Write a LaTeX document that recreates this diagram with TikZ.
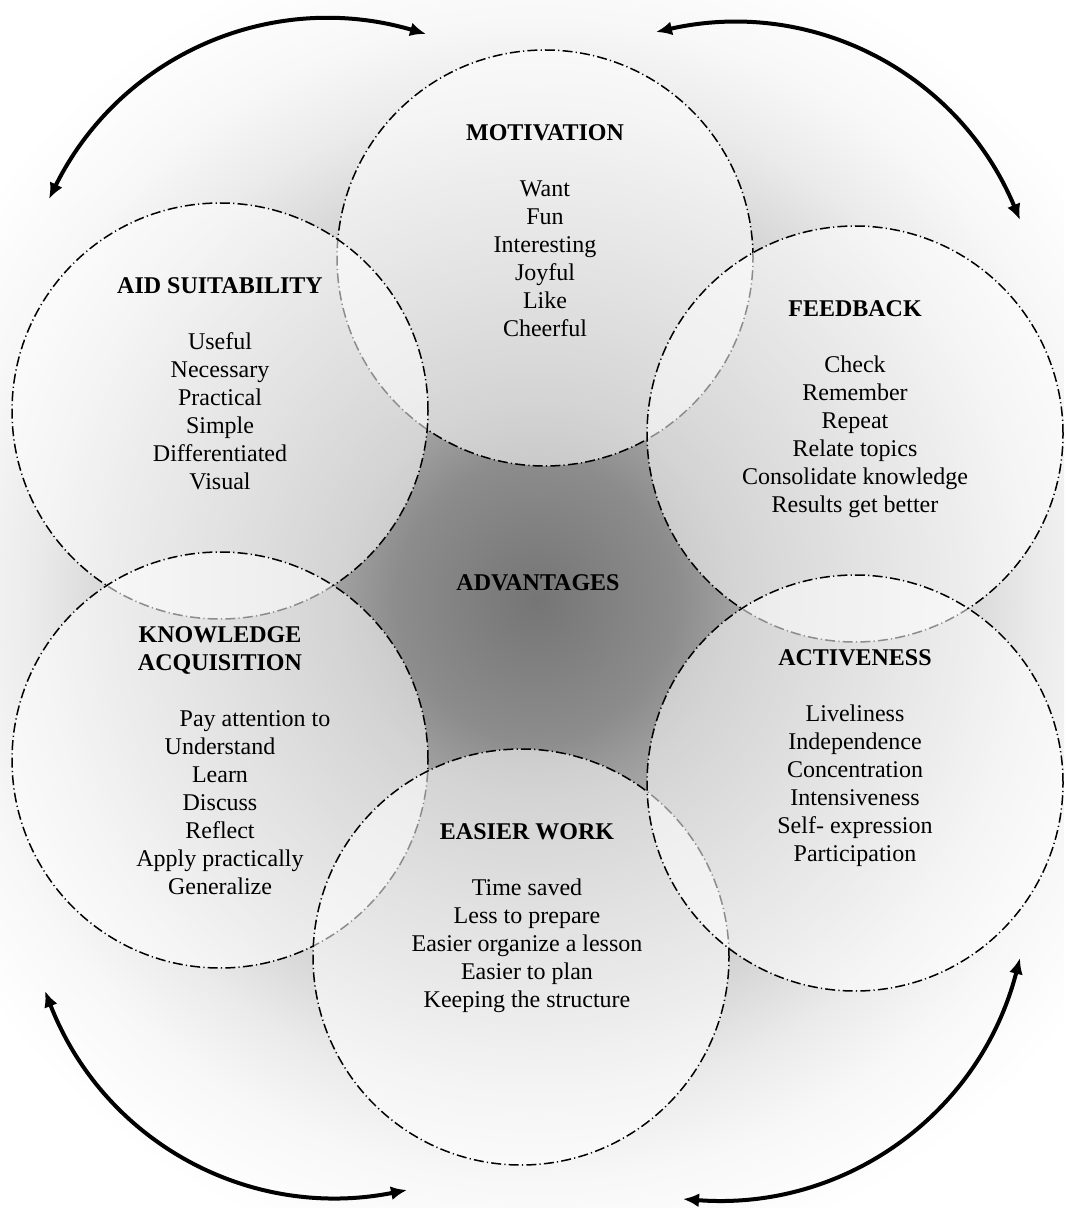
\documentclass[tikz,border=0pt]{standalone}
\usepackage{fontspec}
\setmainfont{Liberation Serif}
\usetikzlibrary{arrows.meta, positioning}

\pgfdeclareradialshading{glow}{\pgfpointorigin}{%
  color(0bp)=(black!54); color(5bp)=(black!45); color(7.1bp)=(black!37);
  color(10.7bp)=(black!27); color(15bp)=(black!16); color(17.9bp)=(black!8);
  color(20.7bp)=(black!3); color(24.3bp)=(white); color(50bp)=(white)}

\begin{document}
\begin{tikzpicture}[
    x=0.5pt, y=-0.5pt,
    bubble/.style={circle, draw, minimum size=208pt, inner sep=0pt, line width=0.75pt,
        dash pattern=on 5pt off 1.6pt on 0.6pt off 1.6pt, fill=white, fill opacity=0.55},
    bubbletext/.style={align=center, inner sep=0pt, font=\fontsize{12}{14}\selectfont},
    twoway/.style={{Latex[length=8pt,width=7pt]}-{Latex[length=8pt,width=7pt]}, line width=2pt}
]
\useasboundingbox (0,0) rectangle (1064,1208);

% Background
\fill[white] (0,0) rectangle (1064,1208);
\begin{scope}
  \clip (0,0) rectangle (1064,1208);
  \shade[shading=glow] (536,600) circle (700);
\end{scope}

% Circles
\node[bubble] (mot) at (545,258) {};
\node[bubble] (aid) at (220,411) {};
\node[bubble] (feed) at (855,434) {};
\node[bubble] (know) at (220,760) {};
\node[bubble] (ease) at (521,957) {};
\node[bubble] (act) at (855,783) {};

% Texts
\node[bubbletext] (adv) at (538,583) {\textbf{ADVANTAGES}};
\node[bubbletext, below=37.5pt of mot.north] (motT) {\textbf{MOTIVATION}\\[14pt]
    Want\\Fun\\Interesting\\Joyful\\Like\\Cheerful};
\node[bubbletext, below=37.5pt of aid.north] (aidT) {\textbf{AID SUITABILITY}\\[14pt]
    Useful\\Necessary\\Practical\\Simple\\Differentiated\\Visual};
\node[bubbletext, below=37.5pt of feed.north] (feedT) {\textbf{FEEDBACK}\\[14pt]
    Check\\Remember\\Repeat\\Relate topics\\Consolidate knowledge\\Results get better};
\node[bubbletext, below=37.5pt of know.north] (knowT) {\textbf{KNOWLEDGE}\\\textbf{ACQUISITION}\\[14pt]
    \hspace*{35pt}Pay attention to\\Understand\\Learn\\Discuss\\Reflect\\Apply practically\\Generalize};
\node[bubbletext, below=37.5pt of act.north] (actT) {\textbf{ACTIVENESS}\\[14pt]
    Liveliness\\Independence\\Concentration\\Intensiveness\\Self- expression\\Participation};
\node[bubbletext, below=37.5pt of ease.north, xshift=3pt] (easeT) {\textbf{EASIER WORK}\\[14pt]
    Time saved\\Less to prepare\\Easier organize a lesson\\Easier to plan\\Keeping the structure};

% Arrows
\coordinate (tl1) at (49,199);
\coordinate (tl2) at (426,34);
\coordinate (tr1) at (656,32);
\coordinate (tr2) at (1020,220);
\coordinate (bl1) at (45,991);
\coordinate (bl2) at (407,1190);
\coordinate (br1) at (683,1199);
\coordinate (br2) at (1020,958);

\draw[twoway] (tl1) to[bend left=40] (tl2);
\draw[twoway] (tr1) to[bend left=40] (tr2);
\draw[twoway] (bl1) to[bend right=40] (bl2);
\draw[twoway] (br1) to[bend right=40] (br2);

\end{tikzpicture}
\end{document}
